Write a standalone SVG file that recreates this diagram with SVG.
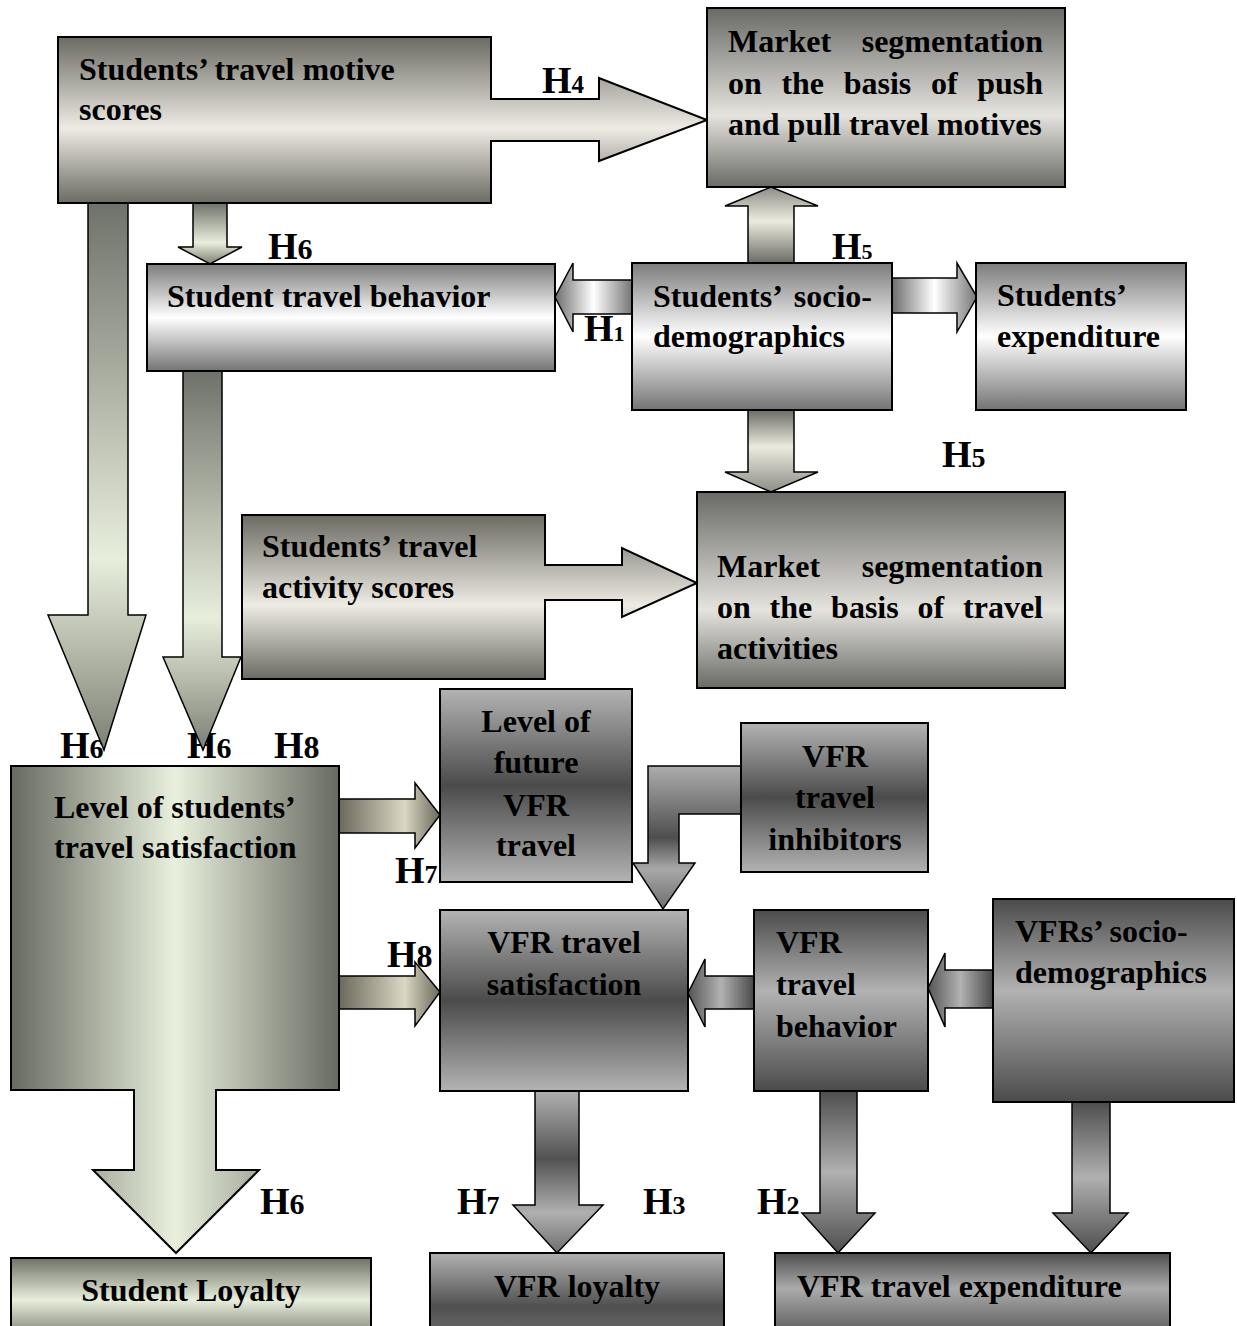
<svg xmlns="http://www.w3.org/2000/svg" width="1237" height="1326" viewBox="0 0 1237 1326">
  <style>
    .t { font-family: "Liberation Serif", "Times New Roman", serif; font-weight: bold; font-size: 32px; fill: #000; }
    .lb { font-family: "Liberation Serif", "Times New Roman", serif; font-weight: bold; font-size: 38px; fill: #000; }
    .box { stroke: #000; stroke-width: 2; }
    .arr { stroke: #000; stroke-width: 1.5; stroke-linejoin: miter; }
  </style>
  <defs>
    <!-- node fills -->
    <linearGradient id="gCream" x1="0" y1="0" x2="0" y2="1">
      <stop offset="0" stop-color="#6b6a63"/><stop offset="0.55" stop-color="#edebe3"/><stop offset="1" stop-color="#6b6a63"/>
    </linearGradient>
    <linearGradient id="gCreamB" x1="0" y1="0" x2="0" y2="1">
      <stop offset="0" stop-color="#696966"/><stop offset="0.6" stop-color="#e4e3de"/><stop offset="1" stop-color="#6a6a66"/>
    </linearGradient>
    <linearGradient id="gSilver" x1="0" y1="0" x2="0" y2="1">
      <stop offset="0" stop-color="#7c7c7c"/><stop offset="0.5" stop-color="#ffffff"/><stop offset="1" stop-color="#747474"/>
    </linearGradient>
    <linearGradient id="gOliveH" x1="0" y1="0" x2="1" y2="0">
      <stop offset="0" stop-color="#676a61"/><stop offset="0.5" stop-color="#e9f0dd"/><stop offset="1" stop-color="#676a61"/>
    </linearGradient>
    <linearGradient id="gLDL" x1="0" y1="0" x2="0" y2="1">
      <stop offset="0" stop-color="#b3b3b3"/><stop offset="0.5" stop-color="#4b4b4b"/><stop offset="1" stop-color="#b3b3b3"/>
    </linearGradient>
    <linearGradient id="gDLD" x1="0" y1="0" x2="0" y2="1">
      <stop offset="0" stop-color="#4b4b4b"/><stop offset="0.45" stop-color="#b2b2b2"/><stop offset="1" stop-color="#4b4b4b"/>
    </linearGradient>
    <linearGradient id="gLoyal" x1="0" y1="0" x2="0" y2="1">
      <stop offset="0" stop-color="#6e7166"/><stop offset="0.5" stop-color="#e8eedc"/><stop offset="1" stop-color="#6e7166"/>
    </linearGradient>
    <linearGradient id="gVfrLoy" x1="0" y1="0" x2="0" y2="1">
      <stop offset="0" stop-color="#b2b2b2"/><stop offset="0.6" stop-color="#505050"/><stop offset="1" stop-color="#707070"/>
    </linearGradient>
    <linearGradient id="gVfrExp" x1="0" y1="0" x2="0" y2="1">
      <stop offset="0" stop-color="#4e4e4e"/><stop offset="0.4" stop-color="#ababab"/><stop offset="1" stop-color="#4e4e4e"/>
    </linearGradient>
    <!-- connector fills -->
    <linearGradient id="aOlive" x1="0" y1="0" x2="0" y2="1">
      <stop offset="0" stop-color="#6f726a"/><stop offset="0.65" stop-color="#e8eedc"/><stop offset="1" stop-color="#7c8074"/>
    </linearGradient>
    <linearGradient id="aUp" x1="0" y1="0" x2="0" y2="1">
      <stop offset="0" stop-color="#8e8d86"/><stop offset="0.45" stop-color="#ecebe0"/><stop offset="1" stop-color="#6c6b64"/>
    </linearGradient>
    <linearGradient id="aDown" x1="0" y1="0" x2="0" y2="1">
      <stop offset="0" stop-color="#6c6b64"/><stop offset="0.45" stop-color="#ecebe0"/><stop offset="1" stop-color="#8e8d86"/>
    </linearGradient>
    <linearGradient id="aSilverH" x1="0" y1="0" x2="1" y2="0">
      <stop offset="0" stop-color="#6d6d6d"/><stop offset="0.5" stop-color="#ffffff"/><stop offset="1" stop-color="#767676"/>
    </linearGradient>
    <linearGradient id="aTan" x1="0" y1="0" x2="1" y2="0">
      <stop offset="0" stop-color="#6b695c"/><stop offset="0.65" stop-color="#dcd7c3"/><stop offset="1" stop-color="#6b695c"/>
    </linearGradient>
    <linearGradient id="aElbow" x1="0" y1="0" x2="0" y2="1">
      <stop offset="0" stop-color="#adadad"/><stop offset="0.5" stop-color="#4e4e4e"/><stop offset="0.72" stop-color="#a8a8a8"/><stop offset="1" stop-color="#6e6e6e"/>
    </linearGradient>
    <linearGradient id="aGrayH" x1="0" y1="0" x2="1" y2="0">
      <stop offset="0" stop-color="#555555"/><stop offset="0.5" stop-color="#b2b2b2"/><stop offset="1" stop-color="#4a4a4a"/>
    </linearGradient>
    <linearGradient id="aJdown" x1="0" y1="0" x2="0" y2="1">
      <stop offset="0" stop-color="#b0b0b0"/><stop offset="0.42" stop-color="#525252"/><stop offset="0.75" stop-color="#b0b0b0"/><stop offset="1" stop-color="#6e6e6e"/>
    </linearGradient>
    <linearGradient id="aDark" x1="0" y1="0" x2="0" y2="1">
      <stop offset="0" stop-color="#4e4e4e"/><stop offset="0.5" stop-color="#b0b0b0"/><stop offset="1" stop-color="#4e4e4e"/>
    </linearGradient>
  </defs>

  <!-- hypothesis labels -->
  <g id="labels">
    <text class="lb" x="542" y="93">H<tspan font-size="25">4</tspan></text>
    <text class="lb" x="268" y="259">H<tspan font-size="30">6</tspan></text>
    <text class="lb" x="832" y="259">H<tspan font-size="22">5</tspan></text>
    <text class="lb" x="584" y="341">H<tspan font-size="22">1</tspan></text>
    <text class="lb" x="942" y="467">H<tspan font-size="28">5</tspan></text>
    <text class="lb" x="60" y="758">H<tspan font-size="28">6</tspan></text>
    <text class="lb" x="187" y="758">H<tspan font-size="30">6</tspan></text>
    <text class="lb" x="274" y="758">H<tspan font-size="32">8</tspan></text>
    <text class="lb" x="395" y="883">H<tspan font-size="26">7</tspan></text>
    <text class="lb" x="387" y="967">H<tspan font-size="32">8</tspan></text>
    <text class="lb" x="260" y="1214">H<tspan font-size="30">6</tspan></text>
    <text class="lb" x="457" y="1214">H<tspan font-size="26">7</tspan></text>
    <text class="lb" x="643" y="1214">H<tspan font-size="26">3</tspan></text>
    <text class="lb" x="757" y="1214">H<tspan font-size="26">2</tspan></text>
  </g>

  <!-- block arrows between boxes -->
  <g id="connectors">
    <path class="arr" fill="url(#aOlive)" d="M193,203 H227 V247 H242 L210,264 L178,247 H193 Z"/>
    <path class="arr" fill="url(#aOlive)" d="M88,203 H128 V615 H146 L104,750 L48,615 H88 Z"/>
    <path class="arr" fill="url(#aOlive)" d="M183,371 H222 V657 H241 L203,750 L163,657 H183 Z"/>
    <path class="arr" fill="url(#aSilverH)" d="M632,280 V314 H573 V332 L555,297 L573,263 V280 Z"/>
    <path class="arr" fill="url(#aUp)" d="M748,263 V206 H725 L771,187 L818,206 H794 V263 Z"/>
    <path class="arr" fill="url(#aSilverH)" d="M892,278 H957 V263 L977,297 L957,332 V313 H892 Z"/>
    <path class="arr" fill="url(#aDown)" d="M748,410 H794 V472 H818 L771,492 L725,472 H748 Z"/>
    <path class="arr" fill="url(#aTan)" d="M339,799 H415 V783 L440,815 L415,848 V833 H339 Z"/>
    <path class="arr" fill="url(#aTan)" d="M339,976 H415 V962 L440,992 L415,1026 V1009 H339 Z"/>
    <path class="arr" fill="url(#aElbow)" d="M741,766 H648 V863 H633 L663,909 L695,863 H679 V814 H741 Z"/>
    <path class="arr" fill="url(#aGrayH)" d="M754,976 V1009 H705 V1027 L688,993 L705,959 V976 Z"/>
    <path class="arr" fill="url(#aGrayH)" d="M993,970 V1008 H945 V1027 L928,988 L945,953 V970 Z"/>
    <path class="arr" fill="url(#aJdown)" d="M535,1091 H579 V1205 H603 L557,1253 L513,1205 H535 Z"/>
    <path class="arr" fill="url(#aDark)" d="M820,1091 H857 V1213 H875 L838,1253 L802,1213 H820 Z"/>
    <path class="arr" fill="url(#aDark)" d="M1072,1102 H1110 V1213 H1128 L1091,1253 L1053,1213 H1072 Z"/>
  </g>

  <!-- boxes -->
  <g id="motive-scores">
    <path class="box" fill="url(#gCream)" d="M58,37 H491 V99 H599 V78 L707,120 L599,161 V141 H491 V203 H58 Z"/>
    <text class="t" x="79" y="80">Students’ travel motive</text>
    <text class="t" x="79" y="120">scores</text>
  </g>
  <g id="seg-push-pull">
    <rect class="box" fill="url(#gCreamB)" x="707" y="8" width="358" height="179"/>
    <text class="t" y="52"><tspan x="728">Market</tspan><tspan x="1043" text-anchor="end">segmentation</tspan></text>
    <text class="t" y="94"><tspan x="728">on</tspan><tspan x="781.4">the</tspan><tspan x="843.7">basis</tspan><tspan x="930.9">of</tspan><tspan x="1043" text-anchor="end">push</tspan></text>
    <text class="t" x="728" y="135">and pull travel motives</text>
  </g>
  <g id="student-behavior">
    <rect class="box" fill="url(#gSilver)" x="147" y="264" width="408" height="107"/>
    <text class="t" x="167" y="307">Student travel behavior</text>
  </g>
  <g id="student-sociodemo">
    <rect class="box" fill="url(#gSilver)" x="632" y="263" width="260" height="147"/>
    <text class="t" y="307"><tspan x="653">Students’</tspan><tspan x="872" text-anchor="end">socio-</tspan></text>
    <text class="t" x="653" y="347">demographics</text>
  </g>
  <g id="student-expenditure">
    <rect class="box" fill="url(#gSilver)" x="976" y="263" width="210" height="147"/>
    <text class="t" x="997" y="306">Students’</text>
    <text class="t" x="997" y="347">expenditure</text>
  </g>
  <g id="activity-scores">
    <path class="box" fill="url(#gCream)" d="M242,515 H545 V565 H622 V548 L697,583 L622,617 V600 H545 V679 H242 Z"/>
    <text class="t" x="262" y="557">Students’ travel</text>
    <text class="t" x="262" y="598">activity scores</text>
  </g>
  <g id="seg-activities">
    <rect class="box" fill="url(#gCreamB)" x="697" y="492" width="368" height="196"/>
    <text class="t" y="577"><tspan x="717">Market</tspan><tspan x="1043" text-anchor="end">segmentation</tspan></text>
    <text class="t" y="618"><tspan x="717">on</tspan><tspan x="769.6">the</tspan><tspan x="831.1">basis</tspan><tspan x="917.5">of</tspan><tspan x="1043" text-anchor="end">travel</tspan></text>
    <text class="t" x="717" y="659">activities</text>
  </g>
  <g id="student-satisfaction">
    <path class="box" fill="url(#gOliveH)" d="M11,766 H339 V1090 H216 V1170 H259 L176,1253 L93,1170 H134 V1090 H11 Z"/>
    <text class="t" x="54" y="818">Level of students’</text>
    <text class="t" x="54" y="858">travel satisfaction</text>
  </g>
  <g id="future-vfr">
    <rect class="box" fill="url(#gLDL)" x="440" y="689" width="192" height="193"/>
    <text class="t" x="536" y="732" text-anchor="middle">Level of</text>
    <text class="t" x="536" y="773" text-anchor="middle">future</text>
    <text class="t" x="536" y="816" text-anchor="middle">VFR</text>
    <text class="t" x="536" y="856" text-anchor="middle">travel</text>
  </g>
  <g id="vfr-inhibitors">
    <rect class="box" fill="url(#gLDL)" x="741" y="723" width="187" height="149"/>
    <text class="t" x="835" y="767" text-anchor="middle">VFR</text>
    <text class="t" x="835" y="808" text-anchor="middle">travel</text>
    <text class="t" x="835" y="850" text-anchor="middle">inhibitors</text>
  </g>
  <g id="vfr-satisfaction">
    <rect class="box" fill="url(#gLDL)" x="440" y="910" width="248" height="181"/>
    <text class="t" x="564" y="953" text-anchor="middle">VFR travel</text>
    <text class="t" x="564" y="995" text-anchor="middle">satisfaction</text>
  </g>
  <g id="vfr-behavior">
    <rect class="box" fill="url(#gDLD)" x="754" y="910" width="174" height="181"/>
    <text class="t" x="776" y="953">VFR</text>
    <text class="t" x="776" y="995">travel</text>
    <text class="t" x="776" y="1037">behavior</text>
  </g>
  <g id="vfr-sociodemo">
    <rect class="box" fill="url(#gDLD)" x="993" y="899" width="241" height="203"/>
    <text class="t" x="1015" y="942">VFRs’ socio-</text>
    <text class="t" x="1015" y="983">demographics</text>
  </g>
  <g id="student-loyalty">
    <rect class="box" fill="url(#gLoyal)" x="11" y="1258" width="360" height="84"/>
    <text class="t" x="191" y="1301" text-anchor="middle">Student Loyalty</text>
  </g>
  <g id="vfr-loyalty">
    <rect class="box" fill="url(#gVfrLoy)" x="430" y="1253" width="294" height="89"/>
    <text class="t" x="577" y="1297" text-anchor="middle">VFR loyalty</text>
  </g>
  <g id="vfr-expenditure">
    <rect class="box" fill="url(#gVfrExp)" x="775" y="1253" width="395" height="89"/>
    <text class="t" x="797" y="1297">VFR travel expenditure</text>
  </g>
</svg>
